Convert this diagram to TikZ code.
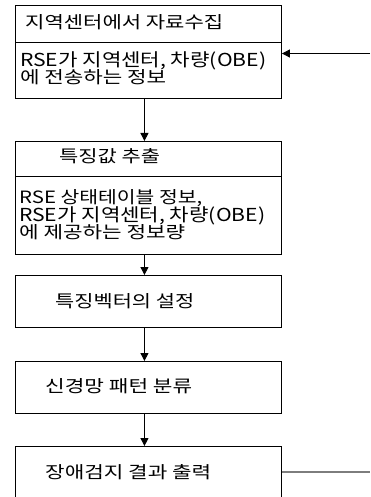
\documentclass[tikz,border=0pt]{standalone}
\usepackage{graphicx}
\usepackage{fontspec}
\setmainfont{Noto Sans CJK KR}
\usetikzlibrary{arrows.meta}
\definecolor{outgray}{RGB}{125,125,125}
\newcommand\fitline[3]{\resizebox{#1pt}{#2pt}{#3}}
\begin{document}
\begin{tikzpicture}[x=1pt,y=-1pt,
 box/.style={draw=black,line width=0.9pt,minimum width=266pt,inner sep=0pt,anchor=north west},
 txt/.style={anchor=base west,inner sep=0pt},
 flow/.style={draw=black,line width=0.9pt,-{Triangle[width=8pt,length=8pt]}},
 outline/.style={draw=outgray,line width=1.6pt}
]
\useasboundingbox (0,0) rectangle (370,497);
\clip (0,0) rectangle (370,497);
\node[box,minimum height=37pt] (b1h) at (15,5) {};
\node[box,minimum height=56pt] (b1b) at (15,42) {};
\node[box,minimum height=35pt] (b2h) at (15,141) {};
\node[box,minimum height=78pt] (b2b) at (15,176) {};
\node[box,minimum height=52pt] (b3) at (15,275) {};
\node[box,minimum height=52pt] (b4) at (15,361) {};
\node[box,minimum height=70pt] (b5) at (15,446) {};
\node[txt] (t1h) at (25,29) {\fitline{198}{14}{지역센터에서 자료수집}};
\node[txt] (t1b1) at (20,66.5) {\fitline{246}{14.8}{RSE가 지역센터, 차량(OBE)}};
\node[txt] (t1b2) at (20,84) {\fitline{146}{14}{에 전송하는 정보}};
\node[txt] (t2h) at (59,162) {\fitline{101}{14}{특징값 추출}};
\node[txt] (t2b1) at (19,203) {\fitline{183}{14}{RSE 상태테이블 정보,}};
\node[txt] (t2b2) at (19,221.5) {\fitline{246}{14.8}{RSE가 지역센터, 차량(OBE)}};
\node[txt] (t2b3) at (19,238) {\fitline{166}{14}{에 제공하는 정보량}};
\node[txt] (t3) at (55,307) {\fitline{139}{14}{특징벡터의 설정}};
\node[txt] (t4) at (45,392) {\fitline{147}{14}{신경망 패턴 분류}};
\node[txt] (t5) at (45,478) {\fitline{166}{14}{장애검지 결과 출력}};
\draw[flow] ([xshift=-4pt]b1b.south) -- ([xshift=-4pt]b2h.north);
\draw[flow] ([xshift=-4pt]b2b.south) -- ([xshift=-4pt]b3.north);
\draw[flow] ([xshift=-4pt]b3.south) -- ([xshift=-4pt]b4.north);
\draw[flow] ([xshift=-4pt]b4.south) -- ([xshift=-4pt]b5.north);
\coordinate (inR) at (370,53.5);
\draw[flow] (inR) -- (inR -| b1b.east);
\coordinate (outR) at (370,472);
\draw[outline] (b5.east |- outR) -- (outR);
\end{tikzpicture}
\end{document}
